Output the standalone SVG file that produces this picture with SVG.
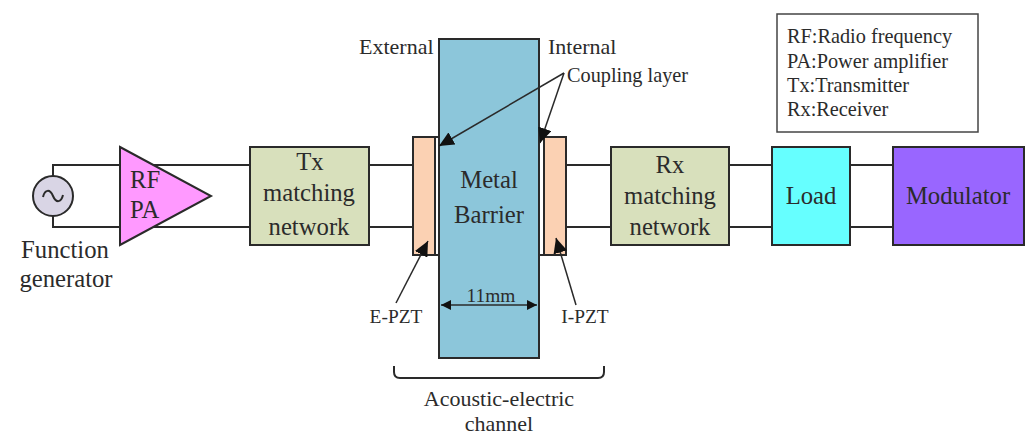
<svg xmlns="http://www.w3.org/2000/svg" width="1025" height="436" viewBox="0 0 1025 436">
<style>
text{font-family:"Liberation Serif","Times New Roman",serif;fill:#2b2b2b}
.c{text-anchor:middle}
.s24{font-size:24.7px}.s22{font-size:22px}.s20{font-size:20.3px}.s19{font-size:19.4px}
.box{stroke:#2a2a2a;stroke-width:2}
.ln{fill:none;stroke:#2a2a2a;stroke-width:2}
.ar{fill:none;stroke:#2a2a2a;stroke-width:1.5}
.ah{marker-end:url(#a)}
</style>
<defs>
<marker id="a" markerUnits="userSpaceOnUse" markerWidth="16" markerHeight="14" refX="15" refY="7" orient="auto"><path d="M0,0L15,7L0,14z" fill="#111"/></marker>
<marker id="b" markerUnits="userSpaceOnUse" markerWidth="11" markerHeight="10" refX="10" refY="5" orient="auto-start-reverse"><path d="M0,0L10,5L0,10z" fill="#111"/></marker>
</defs>
<rect width="1025" height="436" fill="#fff"/>
<g id="connectors">
<path class="ln" d="M53 176V165H250M53 216V227H250"/>
<path class="ln" d="M369 165H413M369 227H413M566 165H611M566 227H611M729 165H772M729 227H772M850 165H893M850 227H893"/>
</g>
<g id="function-generator">
<circle cx="53" cy="196" r="20" fill="#d9d5e5" class="box"/>
<path class="ln" d="M43 197C45 189 50 189 53 196S61 203 63 195"/>
<text class="c s24" x="65" y="258">Function</text>
<text class="c s24" x="66" y="287">generator</text>
</g>
<g id="rf-pa">
<path d="M120 147L211 196L120 245z" fill="#ff99ff" class="box"/>
<text class="s24" x="130" y="188">RF</text>
<text class="s24" x="130" y="218">PA</text>
</g>
<g id="tx">
<rect x="250" y="147" width="119" height="98" fill="#d8e0bc" class="box"/>
<text class="c s24" x="310" y="170">Tx</text>
<text class="c s24" x="309" y="201">matching</text>
<text class="c s24" x="309" y="235">network</text>
</g>
<g id="e-pzt">
<rect x="413" y="137" width="22" height="118" fill="#fbd1b3" class="box"/>
<rect x="435" y="137" width="4" height="118" fill="#fff" class="box"/>
<text class="c s19" x="396" y="323">E-PZT</text>
</g>
<g id="i-pzt">
<rect x="544" y="137" width="22" height="118" fill="#fbd1b3" class="box"/>
<rect x="539" y="137" width="5" height="118" fill="#fff" class="box"/>
<text class="c s19" x="585" y="323">I-PZT</text>
</g>
<g id="barrier">
<rect x="439" y="39" width="100" height="319" fill="#8cc6da" class="box"/>
<text class="c s24" x="489" y="188">Metal</text>
<text class="c s24" x="489" y="223">Barrier</text>
<text class="c s19" x="491" y="302">11mm</text>
</g>
<g id="rx">
<rect x="611" y="147" width="118" height="98" fill="#d8e0bc" class="box"/>
<text class="c s24" x="670" y="173">Rx</text>
<text class="c s24" x="670" y="204">matching</text>
<text class="c s24" x="670" y="235">network</text>
</g>
<g id="load">
<rect x="772" y="147" width="78" height="98" fill="#66ffff" class="box"/>
<text class="c s24" x="811" y="204">Load</text>
</g>
<g id="modulator">
<rect x="893" y="147" width="131" height="98" fill="#9966ff" class="box"/>
<text class="c s24" x="958" y="204">Modulator</text>
</g>
<g id="legend">
<rect x="777" y="14" width="201" height="118" fill="#fff" stroke="#444" stroke-width="1.5"/>
<text class="s20" x="787" y="43">RF:Radio frequency</text>
<text class="s20" x="787" y="68">PA:Power amplifier</text>
<text class="s20" x="787" y="92">Tx:Transmitter</text>
<text class="s20" x="787" y="116">Rx:Receiver</text>
</g>
<g id="annotation-arrows">
<path class="ar ah" d="M564 73L439 146"/>
<path class="ar ah" d="M564 73L540 143"/>
<path class="ar ah" d="M396 303L428 241"/>
<path class="ar ah" d="M576 305L556 238"/>
<path class="ar" d="M441 305H537" marker-start="url(#b)" marker-end="url(#b)"/>
<path class="ln" stroke-width="1.6" d="M394 366V372Q394 378 400 378H598Q604 378 604 372V366"/>
</g>
<g id="labels">
<text class="s22" x="359" y="54">External</text>
<text class="s22" x="548" y="54">Internal</text>
<text class="s20" x="567" y="82">Coupling layer</text>
<text class="c s22" x="499" y="406">Acoustic-electric</text>
<text class="c s22" x="499" y="431">channel</text>
</g>
</svg>
